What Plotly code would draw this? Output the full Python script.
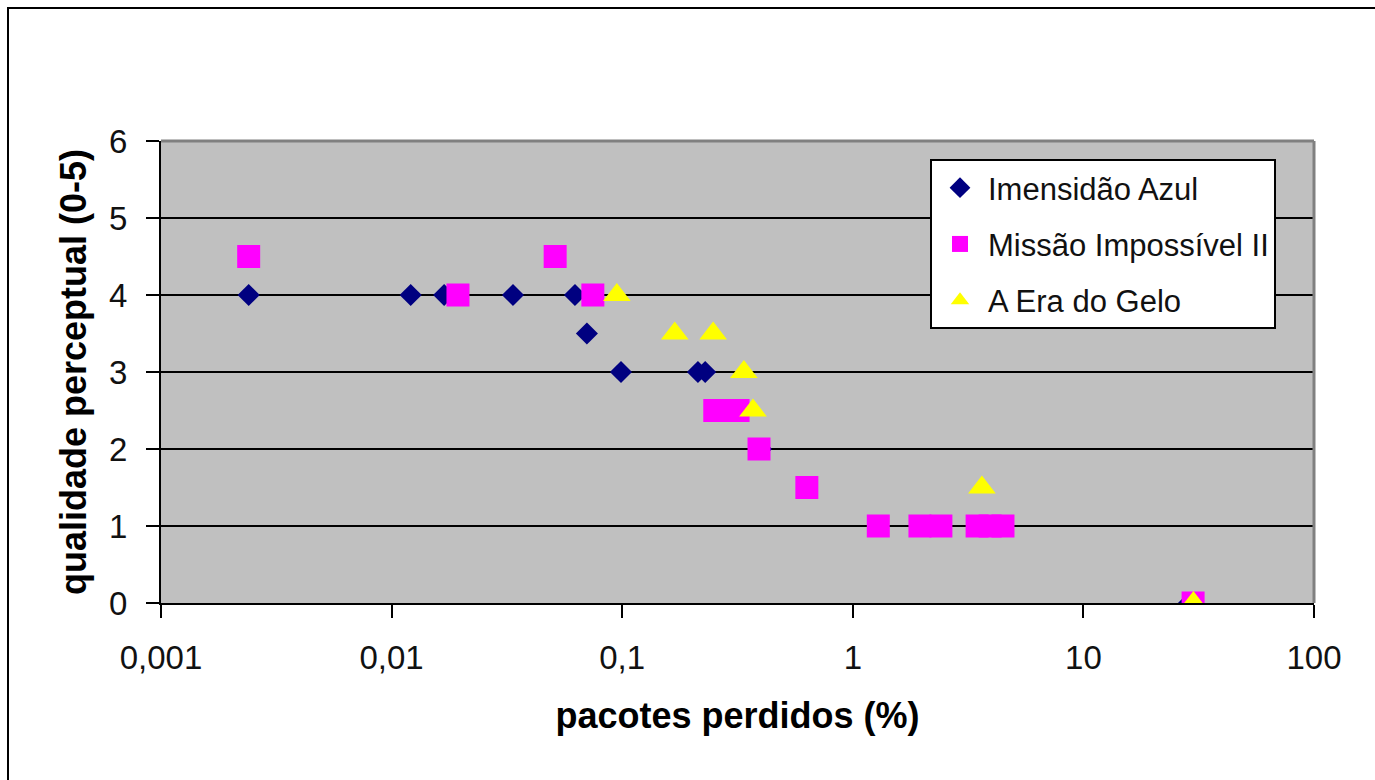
import plotly.graph_objects as go

# Data
imensidao_x = [0.0024, 0.0121, 0.0169, 0.0336, 0.0624, 0.0703, 0.0988, 0.213, 0.229, 0.40, 28.7]
imensidao_y = [4, 4, 4, 4, 4, 3.5, 3, 3, 3, 2, 0]

missao_x = [0.0024, 0.0194, 0.0512, 0.0746, 0.252, 0.285, 0.318, 0.392, 0.632, 1.29, 1.955, 2.41, 3.46, 3.94, 4.48, 29.9]
missao_y = [4.5, 4, 4.5, 4, 2.5, 2.5, 2.5, 2, 1.5, 1, 1, 1, 1, 1, 1, 0]

gelo_x = [0.0948, 0.169, 0.248, 0.337, 0.369, 3.63, 30]
gelo_y = [4, 3.5, 3.5, 3, 2.5, 1.5, 0]

x_tickvals = [0.001, 0.01, 0.1, 1, 10, 100]
x_ticktext = ["0,001", "0,01", "0,1", "1", "10", "100"]
y_tickvals = [0, 1, 2, 3, 4, 5, 6]

series_names = ["Imensidão Azul", "Missão Impossível II", "A Era do Gelo"]

FONT = "Arial, 'Liberation Sans', sans-serif"

W, H = 1375, 780
ML, MR, MT, MB = 161, 61, 141, 177
PW = W - ML - MR
PH = H - MT - MB

def px_x(p):
    return (p - ML) / PW

def px_y(p):
    return (H - MB - p) / PH

fig = go.Figure()
fig.add_trace(go.Scatter(
    x=imensidao_x, y=imensidao_y, mode="markers", name=series_names[0],
    marker=dict(symbol="diamond", size=17, color="#000080", line=dict(width=0)),
    legendgroup="a",
))
fig.add_trace(go.Scatter(
    x=missao_x, y=missao_y, mode="markers", name=series_names[1],
    marker=dict(symbol="square", size=23, color="#FF00FF", line=dict(width=0)),
    legendgroup="b",
))
fig.add_trace(go.Scatter(
    x=gelo_x, y=gelo_y, mode="markers", name=series_names[2],
    marker=dict(symbol="triangle-up", size=24, color="#FFFF00", line=dict(width=0)),
    legendgroup="c",
))

fig.update_layout(
    width=W, height=H,
    margin=dict(l=ML, r=MR, t=MT, b=MB, pad=0),
    paper_bgcolor="white",
    plot_bgcolor="#C0C0C0",
    font=dict(family=FONT, color="black"),
    showlegend=True,
    legend=dict(
        x=px_x(930), y=px_y(159), xanchor="left", yanchor="top",
        bgcolor="white", bordercolor="black", borderwidth=2,
        font=dict(size=31, family=FONT, color="#111111"),
        tracegroupgap=13,
        itemsizing="trace",
        itemwidth=46,
    ),
    xaxis=dict(
        type="log", range=[-3, 2],
        tickvals=x_tickvals, ticktext=x_ticktext,
        tickfont=dict(size=33, family=FONT, color="#111111"),
        ticks="outside", ticklen=13, tickwidth=2, tickcolor="black",
        showline=True, linecolor="black", linewidth=2,
        showgrid=False, zeroline=False,
        ticklabelstandoff=11,
        title=dict(text="<b>pacotes perdidos (%)</b>", font=dict(size=36, family=FONT, color="black"), standoff=28),
    ),
    yaxis=dict(
        range=[0, 6], tickvals=y_tickvals,
        tickfont=dict(size=33, family=FONT, color="#111111"),
        ticks="outside", ticklen=13, tickwidth=2, tickcolor="black",
        showline=True, linecolor="black", linewidth=2,
        showgrid=True, gridcolor="black", gridwidth=2,
        zeroline=False,
        ticklabelstandoff=12,
        title=dict(text="<b>qualidade perceptual (0-5)</b>", font=dict(size=36, family=FONT, color="black"), standoff=11),
    ),
    shapes=[
        # gray top and right plot border
        dict(type="line", xref="paper", yref="paper", x0=0, x1=1, y0=1, y1=1,
             line=dict(color="#808080", width=3)),
        dict(type="line", xref="paper", yref="paper", x0=1, x1=1, y0=0, y1=1,
             line=dict(color="#808080", width=3)),
        # outer chart border (top and left visible)
        dict(type="rect", xref="paper", yref="paper",
             x0=px_x(8), x1=px_x(1420), y0=px_y(830), y1=px_y(8),
             line=dict(color="black", width=2), layer="above"),
    ],
)

fig.write_html("out.html")
